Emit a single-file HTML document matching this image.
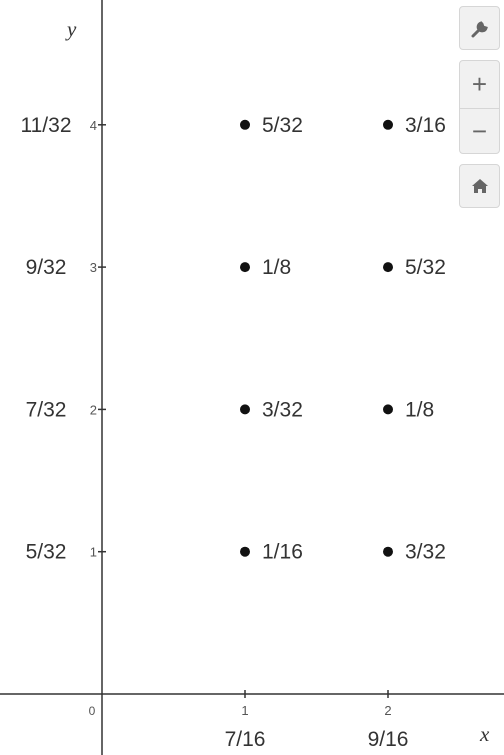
<!DOCTYPE html>
<html><head><meta charset="utf-8"><style>
body{margin:0;background:#fff;width:504px;height:755px;overflow:hidden;font-family:"Liberation Sans",sans-serif}
.btn{position:absolute;left:459px;width:41px;background:#f1f1f1;border:1px solid #d6d6d6;border-radius:4px;box-sizing:border-box;color:#666;text-align:center}
</style></head><body>
<svg id="c" width="504" height="755" style="position:absolute;left:0;top:0"></svg>
<div class="btn" style="top:6px;height:44px"><svg width="20" height="20" viewBox="0 0 20 20" style="margin-top:12px"><path d="M3 17 L10 10 M11 4 a4 4 0 1 0 5 5 l-3 -1 l-1 -3z" stroke="#666" stroke-width="3" fill="#666" stroke-linecap="round"/></svg></div>
<div class="btn" style="top:60px;height:94px">
<div style="height:47px;line-height:47px;font-size:26px;border-bottom:1px solid #d6d6d6">+</div>
<div style="height:46px;line-height:44px;font-size:26px">−</div></div>
<div class="btn" style="top:164px;height:44px"><svg width="18" height="16" viewBox="0 0 18 16" style="margin-top:13px"><path d="M9 1 L1 8 H3 V15 H7 V11 H11 V15 H15 V8 H17Z" fill="#666"/></svg></div>
<script>
const xTicks=[1,2];
const yTicks=[1,2,3,4];
const xLabels=["7/16","9/16"];
const yLabels=["5/32","7/32","9/32","11/32"];
const px=[1,1,1,1,2,2,2,2];
const py=[1,2,3,4,1,2,3,4];
const pLabels=["1/16","3/32","1/8","5/32","3/32","1/8","5/32","3/16"];
const ox=102,oy=694,ux=143,uy=142.3;
const X=v=>ox+v*ux, Y=v=>oy-v*uy;
const s=document.getElementById('c');
function add(tag,attrs,text){const e=document.createElementNS('http://www.w3.org/2000/svg',tag);for(const k in attrs)e.setAttribute(k,attrs[k]);if(text!=null)e.textContent=text;s.appendChild(e);return e;}
let e;
e=add('line',{x1:0,y1:oy,x2:504,y2:oy,stroke:'#333','stroke-width':1.5});


e=add('line',{x1:ox,y1:0,x2:ox,y2:755,stroke:'#333','stroke-width':1.5});


e=add('text',{x:92,y:715,'font-size':12,fill:'#555','text-anchor':'middle'},'0');


xTicks.forEach((t,i)=>{
 e=add('line',{x1:X(t),y1:oy-4,x2:X(t),y2:oy+4,stroke:'#333','stroke-width':1.5});
 
 
 e=add('text',{x:X(t),y:715,'font-size':13,fill:'#555','text-anchor':'middle'},String(t));
 
 
 e=add('text',{x:X(t),y:746,'font-size':21,fill:'#333','text-anchor':'middle'},xLabels[i]);
 
 
});
yTicks.forEach((t,i)=>{
 e=add('line',{x1:ox-4,y1:Y(t),x2:ox+4,y2:Y(t),stroke:'#333','stroke-width':1.5});
 
 
 e=add('text',{x:ox-5,y:Y(t)+5,'font-size':13,fill:'#555','text-anchor':'end'},String(t));
 
 
 e=add('text',{x:46,y:Y(t)+7,'font-size':21,fill:'#333','text-anchor':'middle'},yLabels[i]);
 
 
});
px.forEach((v,i)=>{
 e=add('circle',{cx:X(v),cy:Y(py[i]),r:5,fill:'#111'});
 
 
 e=add('text',{x:X(v)+17,y:Y(py[i])+7,'font-size':21,fill:'#333'},pLabels[i]);
 
 
});
e=add('text',{x:480,y:741,'font-size':21,'font-style':'italic','font-family':'Liberation Serif,serif',fill:'#333'},'x');


e=add('text',{x:67,y:36,'font-size':21,'font-style':'italic','font-family':'Liberation Serif,serif',fill:'#333'},'y');


</script>
</body></html>
